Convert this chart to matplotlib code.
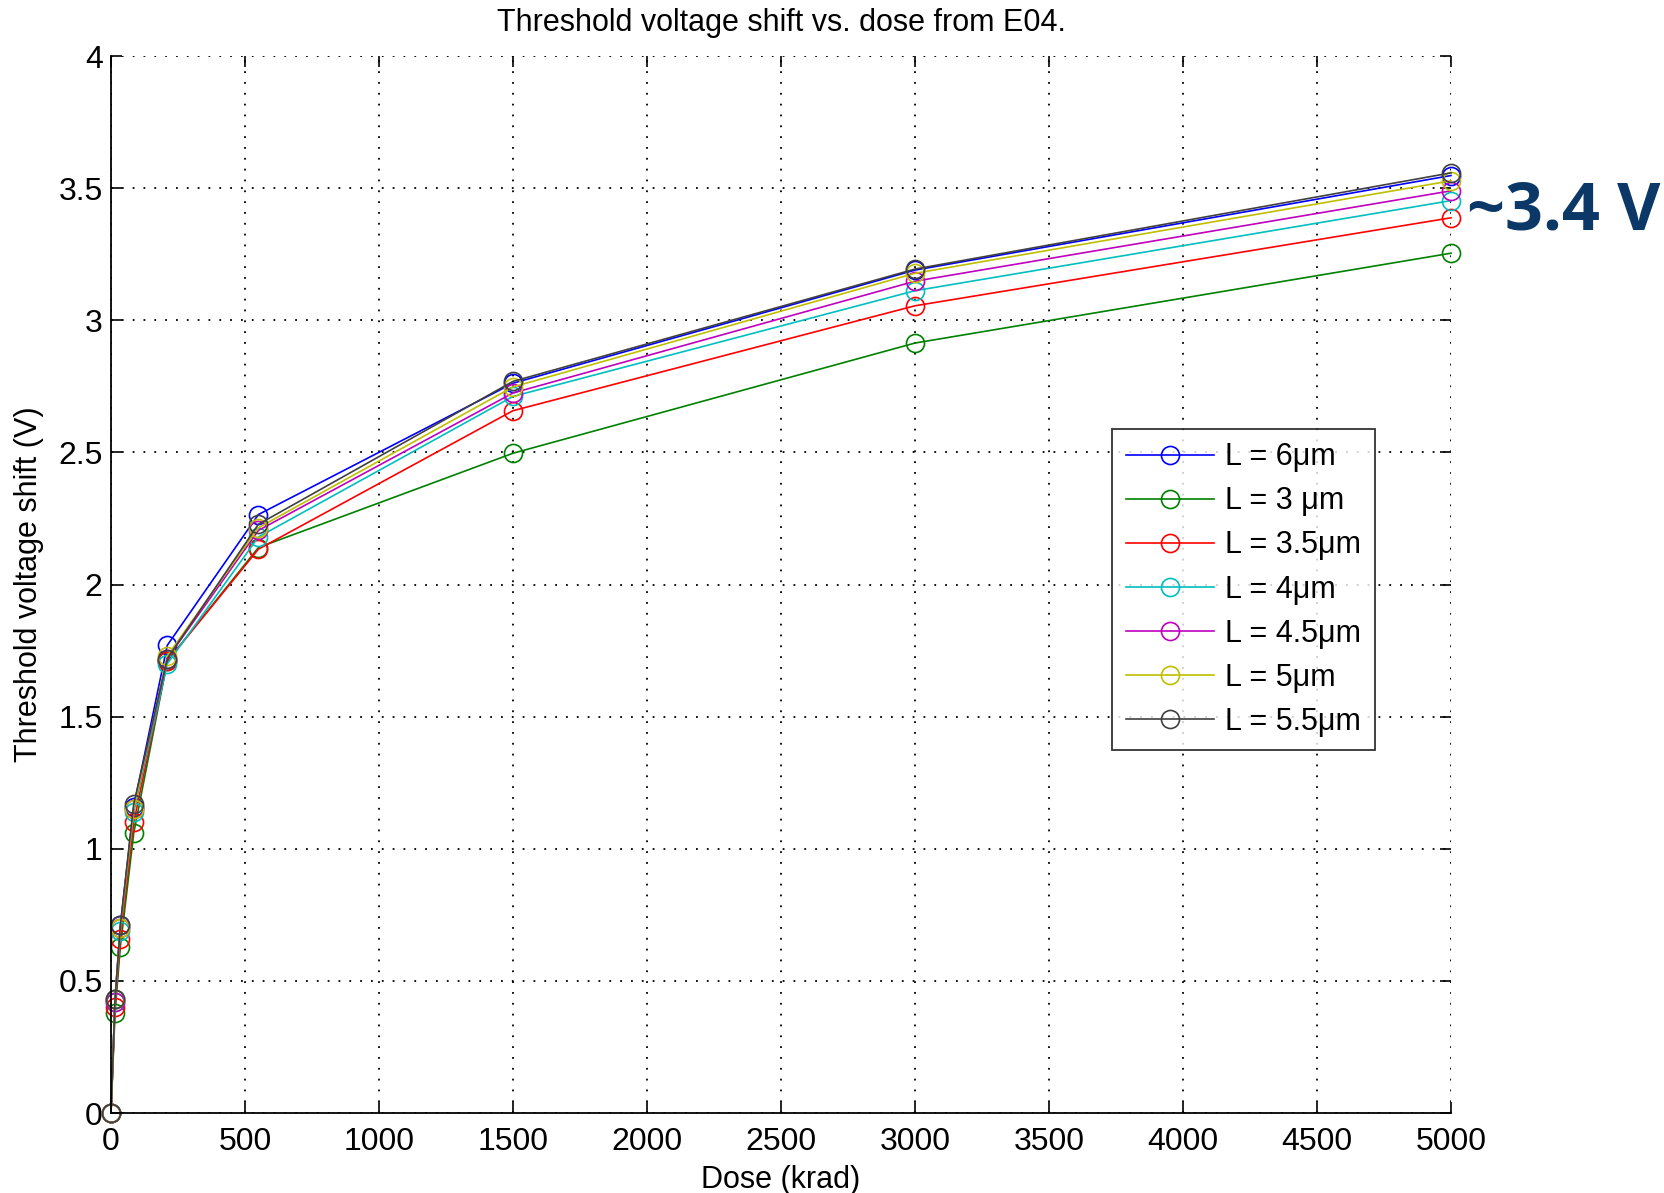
import matplotlib

matplotlib.use("Agg")  # no display
import matplotlib.pyplot as plt

plt.rcParams["font.family"] = ["Liberation Sans", "DejaVu Sans"]

# Data
dose = [0, 15, 35, 85, 210, 550, 1500, 3000, 5000]  # krad
labels = ["L = 6\u03bcm", "L = 3 \u03bcm", "L = 3.5\u03bcm", "L = 4\u03bcm",
          "L = 4.5\u03bcm", "L = 5\u03bcm", "L = 5.5\u03bcm"]
L6 = [0, 0.43, 0.71, 1.16, 1.77, 2.265, 2.762, 3.19, 3.548]
L3 = [0, 0.38, 0.63, 1.06, 1.71, 2.14, 2.497, 2.914, 3.254]
L35 = [0, 0.40, 0.66, 1.10, 1.71, 2.134, 2.658, 3.055, 3.388]
L4 = [0, 0.42, 0.69, 1.14, 1.70, 2.18, 2.712, 3.112, 3.453]
L45 = [0, 0.42, 0.70, 1.15, 1.72, 2.205, 2.725, 3.148, 3.49]
L5 = [0, 0.43, 0.70, 1.15, 1.73, 2.215, 2.748, 3.178, 3.528]
L55 = [0, 0.43, 0.71, 1.17, 1.72, 2.228, 2.769, 3.194, 3.558]
series = [L6, L3, L35, L4, L45, L5, L55]
colors = ["#0000ff", "#008000", "#ff0000", "#00bfbf", "#bf00bf", "#bfbf00", "#404040"]

fig = plt.figure(figsize=(16.64, 11.93), dpi=100)
ax = fig.add_axes([0.0667, 0.067, 0.8053, 0.886])

for y, c, lab in zip(series, colors, labels):
    ax.plot(dose, y, color=c, lw=1.2, marker="o", ms=13, mfc="none",
            mec=c, mew=1.2, label=lab, clip_on=False)

ax.set_xlim(0, 5000)
ax.set_ylim(0, 4)
ax.set_xticks(range(0, 5001, 500))
ax.set_yticks([0, 0.5, 1, 1.5, 2, 2.5, 3, 3.5, 4])
ax.set_yticklabels(["0", "0.5", "1", "1.5", "2", "2.5", "3", "3.5", "4"])
ax.grid(True, color="black", linestyle=(0, (1, 5)), linewidth=1.3)
ax.tick_params(direction="in", length=8, width=1.2, labelsize=23,
               top=True, right=True)
ax.tick_params(axis="x", pad=10)
ax.tick_params(axis="y", pad=6)
for side in ["top", "right"]:
    ax.spines[side].set_visible(False)
for side in ["left", "bottom"]:
    ax.spines[side].set_linewidth(1.3)

ax.set_title("Threshold voltage shift vs. dose from E04.", fontsize=22, pad=18)
ax.set_xlabel("Dose (krad)", fontsize=22, labelpad=6)
ax.set_ylabel("Threshold voltage shift (V)", fontsize=22, labelpad=10)

leg = ax.legend(loc="upper left", bbox_to_anchor=(0.7355, 0.662), fontsize=22,
                frameon=True, fancybox=False, edgecolor="black",
                handlelength=2.9, borderpad=0.45, labelspacing=0.46,
                handletextpad=0.35)
leg.get_frame().set_linewidth(1.3)

fig.text(0.998, 0.822, "~3.4 V", ha="right", va="center", fontsize=48,
         fontweight="bold", color="#0b3866", family=["Open Sans", "DejaVu Sans"])

fig.savefig("out.png", dpi=100, facecolor="white")
